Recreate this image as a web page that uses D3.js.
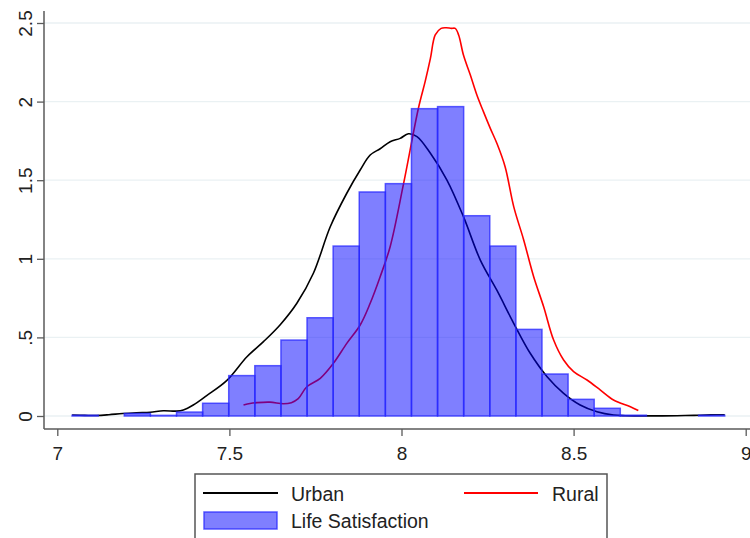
<!DOCTYPE html>
<html>
<head>
<meta charset="utf-8">
<script src="https://cdn.jsdelivr.net/npm/d3@7"></script>
<style>
  html, body { margin: 0; padding: 0; background: #fff; }
  svg { display: block; font-family: "Liberation Sans", Arial, sans-serif; }
</style>
</head>
<body>
<div id="chart"></div>
<script>
// ---- Data ----
const binStart = 7.043;
const binWidth = 0.07584;
const histDensity = [0.005, 0, 0.016, 0.004, 0.025, 0.081, 0.257, 0.32, 0.483, 0.625,
  1.081, 1.425, 1.478, 1.955, 1.968, 1.274, 1.081, 0.551, 0.267, 0.106,
  0.049, 0.005, 0, 0, 0.005];

const urbanX = [7.043, 7.08, 7.115, 7.15, 7.19, 7.23, 7.27, 7.308, 7.347, 7.366, 7.395, 7.434,
  7.492, 7.551, 7.599, 7.647, 7.696, 7.744, 7.793, 7.841, 7.88, 7.909, 7.938, 7.967, 7.996,
  8.02, 8.045, 8.084, 8.132, 8.18, 8.229, 8.277, 8.326, 8.374, 8.423, 8.471, 8.519, 8.568,
  8.616, 8.65, 8.70, 8.75, 8.80, 8.85, 8.90, 8.939];
const urbanY = [0.006, 0.004, 0.003, 0.008, 0.016, 0.021, 0.024, 0.033, 0.031, 0.038, 0.07, 0.13,
  0.225, 0.377, 0.473, 0.579, 0.717, 0.908, 1.204, 1.417, 1.565, 1.66, 1.70, 1.745, 1.766,
  1.795, 1.777, 1.671, 1.501, 1.268, 0.992, 0.80, 0.59, 0.399, 0.25, 0.144, 0.07, 0.027,
  0.006, 0.002, 0.001, 0.001, 0.002, 0.004, 0.007, 0.008];

const ruralX = [7.541, 7.56, 7.58, 7.618, 7.657, 7.68, 7.70, 7.725, 7.764, 7.802, 7.841, 7.88,
  7.909, 7.938, 7.967, 8.006, 8.049, 8.069, 8.084, 8.098, 8.115, 8.13, 8.145, 8.156, 8.166,
  8.18, 8.20, 8.219, 8.238, 8.258, 8.277, 8.301, 8.326, 8.355, 8.384, 8.413, 8.442, 8.471,
  8.50, 8.539, 8.578, 8.616, 8.665, 8.688];
const ruralY = [0.07, 0.08, 0.085, 0.088, 0.078, 0.085, 0.11, 0.186, 0.24, 0.335, 0.462, 0.579,
  0.717, 0.886, 1.077, 1.478, 1.956, 2.13, 2.275, 2.424, 2.466, 2.47, 2.466, 2.466, 2.424,
  2.296, 2.169, 2.042, 1.936, 1.83, 1.735, 1.586, 1.332, 1.12, 0.886, 0.695, 0.483, 0.356,
  0.282, 0.229, 0.165, 0.102, 0.059, 0.035];

const xTicks = [7, 7.5, 8, 8.5, 9];
const xTickLabels = ["7", "7.5", "8", "8.5", "9"];
const yTicks = [0, 0.5, 1, 1.5, 2, 2.5];
const yTickLabels = ["0", ".5", "1", "1.5", "2", "2.5"];
const legendLabels = ["Urban", "Rural", "Life Satisfaction"];

// ---- Layout ----
const W = 750, H = 538;
const axisX = 44, axisY = 429, axisTop = 11;
const x = d3.scaleLinear().domain([7, 9]).range([57.3, 745.7]);
const y = d3.scaleLinear().domain([0, 2.5]).range([416, 23]);

const svg = d3.select("#chart").append("svg").attr("width", W).attr("height", H);

// grid
svg.append("g").selectAll("line").data(yTicks).join("line")
  .attr("x1", axisX).attr("x2", W)
  .attr("y1", d => y(d)).attr("y2", d => y(d))
  .attr("stroke", "#eaf1f3").attr("stroke-width", 1.3);

// density lines (under the translucent bars)
const line = d3.line().x(d => x(d[0])).y(d => y(d[1])).curve(d3.curveCatmullRom.alpha(0.5));
svg.append("path").datum(urbanX.map((v, i) => [v, urbanY[i]]))
  .attr("d", line).attr("fill", "none").attr("stroke", "#000").attr("stroke-width", 1.6);
svg.append("path").datum(ruralX.map((v, i) => [v, ruralY[i]]))
  .attr("d", line).attr("fill", "none").attr("stroke", "#ff0000").attr("stroke-width", 1.6);

// histogram
const bins = histDensity.map((h, i) => ({ x0: binStart + i * binWidth, x1: binStart + (i + 1) * binWidth, h }))
  .filter(b => b.h > 0);
svg.append("g").selectAll("rect").data(bins).join("rect")
  .attr("x", d => x(d.x0)).attr("width", d => x(d.x1) - x(d.x0))
  .attr("y", d => y(d.h)).attr("height", d => y(0) - y(d.h))
  .attr("fill", "rgba(0,0,255,0.5)")
  .attr("stroke", "rgba(40,40,255,0.75)").attr("stroke-width", 1.5);

// axes
const axisColor = "#5a5a5a";
svg.append("line").attr("x1", axisX).attr("x2", axisX).attr("y1", axisTop).attr("y2", axisY)
  .attr("stroke", axisColor).attr("stroke-width", 1.5);
svg.append("line").attr("x1", axisX).attr("x2", W).attr("y1", axisY).attr("y2", axisY)
  .attr("stroke", axisColor).attr("stroke-width", 1.5);

const yAxis = d3.axisLeft(y).tickValues(yTicks).tickSize(7).tickFormat((d, i) => yTickLabels[i]);
const gy = svg.append("g").attr("transform", `translate(${axisX},0)`).call(yAxis);
gy.select(".domain").remove();
gy.selectAll(".tick line").attr("stroke", axisColor).attr("stroke-width", 1.3);
gy.selectAll(".tick text")
  .attr("font-size", 19).attr("fill", "#222")
  .attr("text-anchor", "middle").attr("dy", null)
  .attr("x", null)
  .attr("transform", "translate(-12,0) rotate(-90)");

const xAxis = d3.axisBottom(x).tickValues(xTicks).tickSize(7).tickFormat((d, i) => xTickLabels[i]);
const gx = svg.append("g").attr("transform", `translate(0,${axisY})`).call(xAxis);
gx.select(".domain").remove();
gx.selectAll(".tick line").attr("stroke", axisColor).attr("stroke-width", 1.3);
gx.selectAll(".tick text").attr("font-size", 19).attr("fill", "#222")
  .attr("y", null).attr("dy", null).attr("transform", "translate(0,31)");

// legend
const lg = svg.append("g");
lg.append("rect").attr("x", 195).attr("y", 474).attr("width", 412).attr("height", 80)
  .attr("fill", "#fff").attr("stroke", "#555").attr("stroke-width", 1.5);
lg.append("line").attr("x1", 203).attr("x2", 278).attr("y1", 493).attr("y2", 493)
  .attr("stroke", "#000").attr("stroke-width", 1.8);
lg.append("text").attr("x", 291).attr("y", 501).attr("font-size", 19.5).attr("fill", "#222").text(legendLabels[0]);
lg.append("line").attr("x1", 464).attr("x2", 538).attr("y1", 493).attr("y2", 493)
  .attr("stroke", "#ff0000").attr("stroke-width", 1.8);
lg.append("text").attr("x", 552).attr("y", 501).attr("font-size", 19.5).attr("fill", "#222").text(legendLabels[1]);
lg.append("rect").attr("x", 204).attr("y", 512).attr("width", 73).attr("height", 17)
  .attr("fill", "rgba(0,0,255,0.5)").attr("stroke", "rgba(40,40,255,0.75)").attr("stroke-width", 1.5);
lg.append("text").attr("x", 291).attr("y", 528).attr("font-size", 19.5).attr("fill", "#222").text(legendLabels[2]);
</script>
</body>
</html>
